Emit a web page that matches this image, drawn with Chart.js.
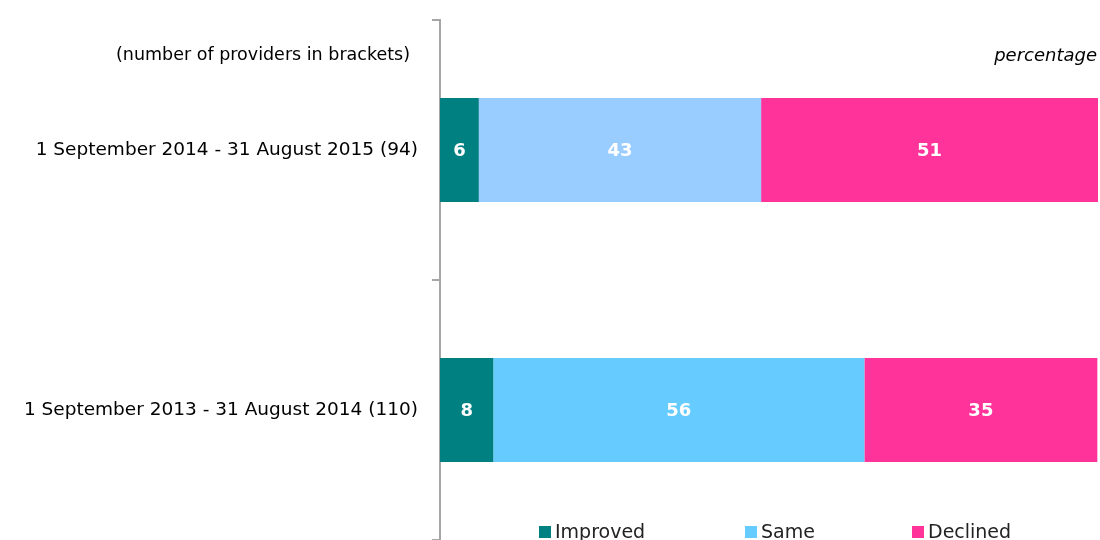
<!DOCTYPE html>
<html>
<head>
<meta charset="utf-8">
<script src="https://cdn.jsdelivr.net/npm/chart.js@4"></script>
<style>
  html, body { margin: 0; padding: 0; background: #fff; overflow: hidden; }
  #wrap { width: 1100px; height: 540px; }
</style>
</head>
<body>
<div id="wrap"><canvas id="chart" width="1100" height="540"></canvas></div>
<script>
// categories (top to bottom)
const periods = [
    "1 September 2014 - 31 August 2015 (94)",
    "1 September 2013 - 31 August 2014 (110)"
];

// segment sizes (percentage)
const improved = [5.9, 8.1];
const same = [42.9, 56.4];
const declined = [51.2, 35.4];

const seriesNames = ["Improved", "Same", "Declined"];

const FONT = "'DejaVu Sans', Verdana, sans-serif";

// white numbers inside each segment
const segmentLabels = {
    id: "segmentLabels",
    afterDatasetsDraw(chart) {
        const ctx = chart.ctx;
        ctx.save();
        ctx.fillStyle = "#ffffff";
        ctx.font = "bold 18px " + FONT;
        ctx.textAlign = "center";
        ctx.textBaseline = "middle";
        chart.data.datasets.forEach((ds, i) => {
            const meta = chart.getDatasetMeta(i);
            meta.data.forEach((bar, j) => {
                const x = (bar.x + bar.base) / 2;
                ctx.fillText(Math.round(ds.data[j]), x, bar.y + 1);
            });
        });
        ctx.restore();
    }
};

// header texts and the legend at the bottom
const extras = {
    id: "extras",
    afterDraw(chart) {
        const ctx = chart.ctx;
        ctx.save();
        ctx.fillStyle = "#000";
        ctx.textBaseline = "middle";
        ctx.font = "17.5px " + FONT;
        ctx.textAlign = "right";
        ctx.fillText("(number of providers in brackets)", 410, 55);
        ctx.font = "italic 18px " + FONT;
        ctx.fillText("percentage", 1097, 56);

        const legendX = [539, 745, 912];
        const legendColors = ["#008080", "#66CCFF", "#FF3399"];
        ctx.font = "19px " + FONT;
        ctx.textAlign = "left";
        ctx.textBaseline = "alphabetic";
        seriesNames.forEach((name, i) => {
            ctx.fillStyle = legendColors[i];
            ctx.fillRect(legendX[i], 526, 12, 12);
            ctx.fillStyle = "#222";
            ctx.fillText(name, legendX[i] + 16, 538);
        });
        ctx.restore();
    }
};

new Chart(document.getElementById("chart").getContext("2d"), {
    type: "bar",
    data: {
        labels: periods,
        datasets: [
            { label: seriesNames[0], data: improved, backgroundColor: "#008080" },
            { label: seriesNames[1], data: same, backgroundColor: ["#99CCFF", "#66CCFF"] },
            { label: seriesNames[2], data: declined, backgroundColor: "#FF3399" }
        ]
    },
    options: {
        indexAxis: "y",
        responsive: false,
        animation: false,
        layout: { padding: { top: 20, right: 2, bottom: 0, left: 0 } },
        datasets: {
            bar: { barPercentage: 0.4, categoryPercentage: 1.0, borderWidth: 0 }
        },
        scales: {
            x: {
                stacked: true,
                min: 0,
                max: 100,
                display: false
            },
            y: {
                stacked: true,
                afterFit(scale) {
                    scale.width = 440;
                    scale.paddingTop = 0;
                    scale.paddingBottom = 0;
                },
                border: { display: true, color: "#a6a6a6", width: 2 },
                grid: {
                    display: true,
                    drawOnChartArea: false,
                    drawTicks: true,
                    tickLength: 8,
                    color: "#a6a6a6",
                    lineWidth: 2,
                    offset: true
                },
                ticks: {
                    color: "#000",
                    padding: 14,
                    font: { family: FONT, size: 18.5 }
                }
            }
        },
        plugins: {
            legend: { display: false },
            tooltip: { enabled: false }
        }
    },
    plugins: [segmentLabels, extras]
});
</script>
</body>
</html>
